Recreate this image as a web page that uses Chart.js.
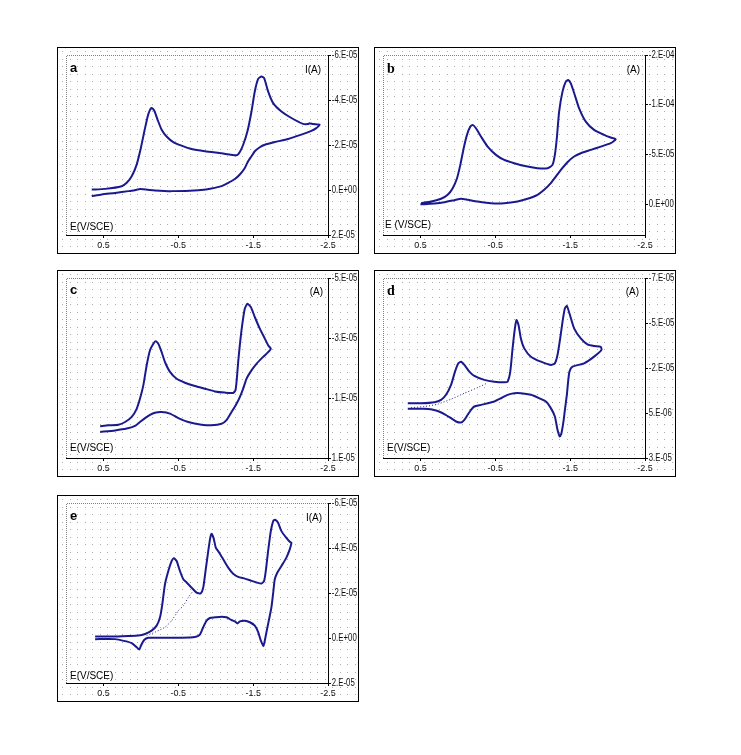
<!DOCTYPE html>
<html><head><meta charset="utf-8">
<script src="https://cdn.jsdelivr.net/npm/chart.js@4"></script>
<style>
body{margin:0;background:#fff;width:741px;height:755px;position:relative;overflow:hidden;font-family:"Liberation Sans",Arial,sans-serif}
.panel{position:absolute;width:300px;height:205px;border:1px solid #000;}
.panel canvas{position:absolute;left:0;top:0}
.lbl{position:absolute;font-size:10px;line-height:10px;white-space:nowrap;color:#000;font-family:"Liberation Sans",Arial,sans-serif}
.let{position:absolute;font-weight:bold;font-size:13px;line-height:13px;color:#000}
.sans{font-family:"Liberation Sans",Arial,sans-serif}
.serif{font-family:"Liberation Serif","Times New Roman",serif;font-size:14px}
</style></head>
<body>
<script>
// ---------- data: E (V vs SCE), I (µA) ----------
const xTicks = [0.5, -0.5, -1.5, -2.5];
const xTickLabels = ['0.5', '-0.5', '-1.5', '-2.5'];

const aYTicks = [-60, -40, -20, 0, 20];
const aYLabels = ['-6.E-05', '-4.E-05', '-2.E-05', '0.E+00', '2.E-05'];
const bYTicks = [-150, -100, -50, 0];
const bYLabels = ['-2.E-04', '-1.E-04', '-5.E-05', '0.E+00'];
const cYTicks = [-50, -30, -10, 10];
const cYLabels = ['-5.E-05', '-3.E-05', '-1.E-05', '1.E-05'];
const dYTicks = [-70, -45, -20, 5, 30];
const dYLabels = ['-7.E-05', '-5.E-05', '-2.E-05', '5.E-06', '3.E-05'];
const eYTicks = [-60, -40, -20, 0, 20];
const eYLabels = ['-6.E-05', '-4.E-05', '-2.E-05', '0.E+00', '2.E-05'];

const aCV = [[0.656,-0.2],[0.478,-0.5],[0.256,-1.7],[0.189,-3.2],[0.122,-6.1],[0.056,-11.3],[0.0,-18.7],[-0.047,-26.1],[-0.091,-32.7],[-0.122,-35.6],[-0.144,-36.4],[-0.18,-35.2],[-0.224,-31.2],[-0.278,-26.8],[-0.344,-23.8],[-0.433,-21.3],[-0.544,-19.7],[-0.678,-18.2],[-0.856,-17.2],[-1.078,-16.3],[-1.278,-15.4],[-1.322,-16.9],[-1.367,-20.1],[-1.424,-26.1],[-1.478,-34.9],[-1.522,-43.8],[-1.567,-49.4],[-1.611,-50.4],[-1.647,-49.7],[-1.7,-43.8],[-1.767,-38.6],[-1.878,-34.9],[-2.011,-32.0],[-2.167,-29.4],[-2.233,-29.3],[-2.256,-29.7],[-2.3,-29.3],[-2.389,-29.0],
 [-2.344,-27.5],[-2.278,-26.3],[-2.144,-24.6],[-1.967,-22.7],[-1.789,-21.3],[-1.656,-20.1],[-1.589,-19.0],[-1.522,-17.2],[-1.478,-15.0],[-1.433,-12.8],[-1.389,-9.8],[-1.322,-6.9],[-1.256,-4.9],[-1.167,-3.2],[-1.078,-1.7],[-0.944,-0.7],[-0.767,0.1],[-0.411,0.5],[-0.189,0.2],[0.011,-0.4],[0.078,0.1],[0.167,0.5],[0.344,1.3],[0.522,2.0],[0.656,2.7]];

const bCV = [[0.491,-1.0],[0.358,-2.7],[0.224,-5.4],[0.136,-9.4],[0.069,-16.1],[0.011,-26.1],[-0.033,-39.5],[-0.078,-56.3],[-0.122,-69.7],[-0.167,-78.0],[-0.198,-79.7],[-0.242,-76.3],[-0.309,-68.0],[-0.398,-57.9],[-0.509,-49.6],[-0.62,-44.5],[-0.753,-41.2],[-0.931,-37.8],[-1.064,-36.2],[-1.198,-36.2],[-1.264,-39.5],[-1.296,-49.6],[-1.322,-66.3],[-1.353,-93.1],[-1.398,-113.2],[-1.442,-123.2],[-1.473,-124.9],[-1.509,-121.5],[-1.562,-109.8],[-1.62,-96.4],[-1.709,-83.0],[-1.82,-74.7],[-1.953,-69.7],[-2.042,-67.0],[-2.109,-65.3],
 [-2.042,-61.3],[-1.909,-57.9],[-1.776,-54.6],[-1.642,-51.2],[-1.553,-47.9],[-1.464,-42.2],[-1.376,-34.5],[-1.309,-27.8],[-1.242,-21.1],[-1.153,-14.4],[-1.064,-9.4],[-0.931,-5.4],[-0.798,-2.7],[-0.62,-1.0],[-0.442,-1.0],[-0.264,-2.7],[-0.131,-4.4],[-0.042,-5.4],[0.047,-4.0],[0.18,-2.0],[0.313,-0.7],[0.447,0.0],[0.5,0.0]];

const cCV = [[0.544,-0.6],[0.433,-0.9],[0.3,-1.1],[0.211,-2.0],[0.122,-3.7],[0.056,-6.4],[0.011,-9.8],[-0.033,-14.2],[-0.078,-20.9],[-0.122,-25.9],[-0.167,-28.1],[-0.198,-28.9],[-0.233,-28.1],[-0.278,-25.3],[-0.322,-22.0],[-0.389,-18.7],[-0.478,-16.4],[-0.589,-15.1],[-0.722,-14.0],[-0.856,-13.1],[-0.989,-12.2],[-1.122,-11.8],[-1.233,-11.7],[-1.264,-12.6],[-1.282,-16.4],[-1.3,-22.0],[-1.322,-27.6],[-1.353,-34.2],[-1.389,-39.8],[-1.424,-41.4],[-1.469,-40.3],[-1.522,-37.0],[-1.589,-33.1],[-1.656,-29.8],[-1.7,-27.6],[-1.736,-26.4],
 [-1.7,-25.3],[-1.633,-23.7],[-1.544,-21.4],[-1.478,-19.2],[-1.411,-16.4],[-1.367,-13.1],[-1.322,-10.3],[-1.278,-8.1],[-1.211,-5.3],[-1.144,-2.6],[-1.078,-1.4],[-0.944,-0.9],[-0.811,-1.1],[-0.633,-2.0],[-0.5,-3.3],[-0.389,-4.8],[-0.278,-5.3],[-0.189,-5.1],[-0.122,-4.4],[-0.056,-3.3],[0.011,-2.0],[0.078,-0.7],[0.189,0.2],[0.344,0.8],[0.544,1.3]];

const dCV = [[0.669,-0.4],[0.491,-0.4],[0.313,-1.0],[0.224,-2.3],[0.158,-5.1],[0.091,-10.6],[0.038,-18.0],[-0.007,-22.6],[-0.042,-23.5],[-0.087,-21.7],[-0.153,-18.0],[-0.22,-15.6],[-0.353,-13.4],[-0.487,-12.4],[-0.62,-12.1],[-0.664,-12.4],[-0.7,-18.0],[-0.731,-30.9],[-0.762,-42.0],[-0.784,-46.6],[-0.811,-43.8],[-0.842,-36.4],[-0.887,-30.9],[-0.976,-26.3],[-1.109,-23.5],[-1.242,-21.7],[-1.296,-22.6],[-1.331,-27.2],[-1.367,-36.4],[-1.398,-45.6],[-1.429,-53.0],[-1.456,-54.5],[-1.491,-50.3],[-1.553,-42.0],[-1.642,-36.4],[-1.731,-33.1],[-1.82,-32.2],[-1.909,-31.8],[-1.918,-30.0],
 [-1.82,-26.3],[-1.687,-22.6],[-1.531,-20.7],[-1.491,-18.0],[-1.473,-12.4],[-1.456,-5.1],[-1.433,2.3],[-1.411,9.7],[-1.384,16.2],[-1.362,18.0],[-1.331,14.3],[-1.296,6.9],[-1.242,2.3],[-1.176,-1.4],[-1.087,-3.2],[-0.976,-5.1],[-0.842,-6.0],[-0.753,-6.0],[-0.664,-5.1],[-0.576,-3.2],[-0.487,-1.4],[-0.398,-0.4],[-0.309,0.5],[-0.22,1.4],[-0.176,3.2],[-0.131,6.0],[-0.087,8.8],[-0.042,10.3],[0.024,9.7],[0.091,7.9],[0.18,5.6],[0.291,3.6],[0.447,2.7],[0.669,2.7]];
const dFirstScan = [[0.624,2.0],[0.447,1.4],[0.269,0.1],[0.091,-2.7],[-0.087,-6.0],[-0.264,-9.1],[-0.376,-11.3]];

const eCV = [[0.611,-0.65],[0.389,-0.65],[0.167,-0.9],[0.033,-1.1],[-0.056,-1.8],[-0.144,-3.3],[-0.211,-5.5],[-0.256,-9.2],[-0.287,-15.1],[-0.322,-23.9],[-0.367,-29.8],[-0.411,-34.2],[-0.442,-35.4],[-0.478,-34.2],[-0.522,-29.8],[-0.567,-26.1],[-0.611,-24.7],[-0.678,-22.4],[-0.744,-20.2],[-0.798,-19.8],[-0.833,-22.4],[-0.864,-29.8],[-0.9,-38.6],[-0.927,-44.5],[-0.944,-46.3],[-0.971,-44.5],[-1.002,-40.1],[-1.047,-37.9],[-1.1,-35.0],[-1.167,-31.3],[-1.233,-28.6],[-1.3,-27.2],[-1.389,-26.4],[-1.478,-25.4],[-1.544,-24.7],[-1.611,-24.2],[-1.647,-25.4],[-1.669,-29.8],[-1.7,-38.6],[-1.736,-47.5],[-1.771,-52.2],[-1.798,-52.5],[-1.833,-51.2],[-1.878,-47.5],[-1.944,-44.5],[-1.989,-42.8],[-2.011,-42.3],
 [-1.989,-39.4],[-1.944,-35.7],[-1.878,-32.0],[-1.824,-29.1],[-1.789,-26.1],[-1.771,-21.0],[-1.744,-13.6],[-1.709,-7.7],[-1.682,-3.3],[-1.656,1.1],[-1.638,3.6],[-1.602,1.1],[-1.567,-2.6],[-1.522,-5.5],[-1.456,-7.0],[-1.389,-7.7],[-1.322,-7.4],[-1.291,-6.5],[-1.256,-7.4],[-1.211,-8.0],[-1.144,-9.2],[-1.078,-9.5],[-0.989,-9.2],[-0.922,-8.9],[-0.878,-7.7],[-0.833,-4.8],[-0.789,-1.5],[-0.722,-0.4],[-0.544,-0.1],[-0.189,-0.1],[-0.1,-0.1],[-0.047,0.8],[-0.002,3.3],[0.02,5.1],[0.056,4.1],[0.122,2.3],[0.211,1.4],[0.344,0.5],[0.611,0.5]];
const eFirstScan = [[-0.078,-1.1],[-0.189,-2.6],[-0.322,-4.8],[-0.411,-7.7],[-0.5,-12.1],[-0.567,-14.3],[-0.633,-18.0],[-0.7,-21.0]];

// ---------- drawing ----------
const NAVY = '#1a1a8e';
const XFONT = {family:'"Liberation Sans",Arial,sans-serif', size:9};
const YFONT = {family:'"Liberation Sans",Arial,sans-serif', size:10};
const Y_LABEL_SQUEEZE = 0.78;

const bgPlugin = {
  id:'bgdots',
  beforeDraw(chart){
    const ctx = chart.ctx;
    // condense the right-axis tick labels horizontally (the original uses a narrow font)
    const ys = chart.scales.y;
    if (ys && !ys._squeezed) {
      const orig = ys.drawLabels;
      ys._computeLabelArea = function(){ return undefined; };
      ys.drawLabels = function(area){
        const c = this.ctx, x0 = this.left + 3;
        c.save(); c.translate(x0, 0); c.scale(Y_LABEL_SQUEEZE, 1); c.translate(-x0, 0);
        orig.call(this, area);
        c.restore();
      };
      ys._squeezed = true;
    }
    ctx.save();
    ctx.fillStyle = '#ababab';
    for (let y = 3; y < chart.height; y += 7.5)
      for (let x = 4; x < chart.width; x += 7.5)
        ctx.fillRect(Math.round(x), Math.round(y), 1, 1);
    const a = chart.chartArea;
    ctx.strokeStyle = '#808080'; ctx.lineWidth = 1; ctx.setLineDash([1,1]);
    ctx.beginPath();
    ctx.moveTo(a.left + 0.5, a.bottom);
    ctx.lineTo(a.left + 0.5, a.top + 0.5);
    ctx.lineTo(a.right, a.top + 0.5);
    ctx.stroke();
    ctx.restore();
  }
};

const panels = [
  {left:57, top:47, letter:'a', letterCls:'sans', letterPos:[12,13], iLabel:'I(A)', iPos:[37,17], eLabel:'E(V/SCE)', ePos:[12,174], cv:aCV, first:null, yTicks:aYTicks, yLabels:aYLabels, ymin:-60, ymax:20},
  {left:374, top:47, letter:'b', letterCls:'serif', letterPos:[12,14], iLabel:'(A)', iPos:[35,17], eLabel:'E (V/SCE)', ePos:[10,172], cv:bCV, first:null, yTicks:bYTicks, yLabels:bYLabels, ymin:-150, ymax:31},
  {left:57, top:270, letter:'c', letterCls:'sans', letterPos:[12,12], iLabel:'(A)', iPos:[35,16], eLabel:'E(V/SCE)', ePos:[12,172], cv:cCV, first:null, yTicks:cYTicks, yLabels:cYLabels, ymin:-50, ymax:10},
  {left:374, top:270, letter:'d', letterCls:'serif', letterPos:[12,13], iLabel:'(A)', iPos:[36,16], eLabel:'E(V/SCE)', ePos:[12,172], cv:dCV, first:dFirstScan, yTicks:dYTicks, yLabels:dYLabels, ymin:-70, ymax:30},
  {left:57, top:495, letter:'e', letterCls:'sans', letterPos:[12,13], iLabel:'I(A)', iPos:[36,17], eLabel:'E(V/SCE)', ePos:[12,175], cv:eCV, first:eFirstScan, yTicks:eYTicks, yLabels:eYLabels, ymin:-60, ymax:20}
];

panels.forEach(p => {
  const div = document.createElement('div');
  div.className = 'panel';
  div.style.left = p.left + 'px'; div.style.top = p.top + 'px';
  const cv = document.createElement('canvas');
  cv.width = 300; cv.height = 205;
  div.appendChild(cv);
  const L = document.createElement('div');
  L.className = 'let ' + p.letterCls; L.textContent = p.letter;
  L.style.left = p.letterPos[0] + 'px'; L.style.top = p.letterPos[1] + 'px';
  div.appendChild(L);
  const IA = document.createElement('div');
  IA.className = 'lbl'; IA.textContent = p.iLabel;
  IA.style.right = p.iPos[0] + 'px'; IA.style.top = p.iPos[1] + 'px';
  div.appendChild(IA);
  const EL = document.createElement('div');
  EL.className = 'lbl'; EL.textContent = p.eLabel;
  EL.style.left = p.ePos[0] + 'px'; EL.style.top = p.ePos[1] + 'px';
  div.appendChild(EL);
  document.body.appendChild(div);

  const datasets = [{
    data: p.cv.map(([x,y]) => ({x,y})), showLine:true, borderColor:NAVY, borderWidth:2,
    pointRadius:0, tension:0.2, fill:false
  }];
  if (p.first) datasets.push({
    data: p.first.map(([x,y]) => ({x,y})), showLine:true, borderColor:NAVY, borderWidth:1,
    borderDash:[1,2], pointRadius:0, tension:0.2, fill:false
  });

  new Chart(cv, {
    type:'scatter',
    data:{datasets},
    plugins:[bgPlugin],
    options:{
      responsive:false, animation:false, devicePixelRatio:1,
      layout:{padding:{left:8, top:7, right:2, bottom:2}},
      plugins:{legend:{display:false}, tooltip:{enabled:false}},
      scales:{
        x:{type:'linear', reverse:true, min:-2.5, max:1.0,
          afterBuildTicks: s => { s.ticks = xTicks.map(v => ({value:v})); },
          afterFit: s => { s.height = 16; },
          ticks:{callback:(v,i) => xTickLabels[i], autoSkip:false, maxRotation:0, minRotation:0, font:XFONT, color:'#111', padding:2},
          grid:{drawOnChartArea:false, color:'#000', tickLength:3},
          border:{color:'#000', width:1}
        },
        y:{type:'linear', position:'right', reverse:true, min:p.ymin, max:p.ymax,
          afterBuildTicks: s => { s.ticks = p.yTicks.map(v => ({value:v})); },
          afterFit: s => { s.width = 28; },
          ticks:{callback:(v,i) => p.yLabels[i], autoSkip:false, font:YFONT, color:'#111', padding:1},
          grid:{drawOnChartArea:false, color:'#000', tickLength:3},
          border:{color:'#000', width:1}
        }
      }
    }
  });
});
</script>
</body></html>
